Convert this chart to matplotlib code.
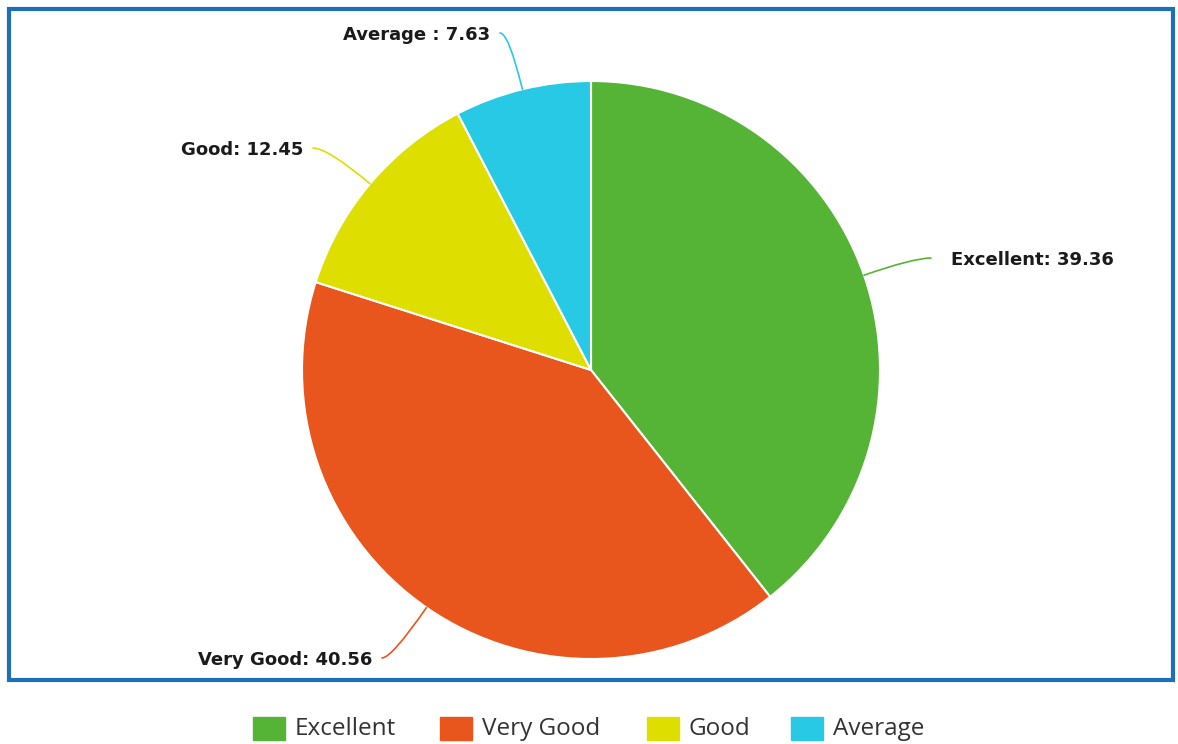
import numpy as np
import matplotlib
matplotlib.use("Agg")
import matplotlib.pyplot as plt
from matplotlib.patches import Rectangle

categories = ["Excellent", "Very Good", "Good", "Average"]
values = [39.36, 40.56, 12.45, 7.63]
colors = ["#55b436", "#e8561e", "#dede00", "#27c9e5"]

W, H = 1178, 744
fig = plt.figure(figsize=(W / 100, H / 100), dpi=100)
ax = fig.add_axes([0, 0, 1, 1])

def P(x, y):
    return (x, H - y)

cx, cy = P(591, 370)
R = 289
wedges, _ = ax.pie(values, colors=colors, startangle=90, counterclock=False,
                   center=(cx, cy), radius=R, frame=True,
                   wedgeprops=dict(edgecolor="white", linewidth=1.5))
ax.set_xlim(0, W)
ax.set_ylim(0, H)
ax.axis("off")

# border
ax.add_patch(Rectangle(P(9, 680), 1164, 671, fill=False, edgecolor="#1c6fb9",
                       linewidth=3, zorder=5))

# labels
label_pos = {
    "Excellent": ((951, 260), "left"),
    "Very Good": ((372, 660), "right"),
    "Good": ((303, 150), "right"),
    "Average": ((490, 35), "right"),
}
for w, cat, val, col in zip(wedges, categories, values, colors):
    mid = (w.theta1 + w.theta2) / 2
    ang = np.deg2rad(mid)
    ex, ey = cx + R * np.cos(ang), cy + R * np.sin(ang)
    (tx, ty), ha = label_pos[cat]
    sep = " : " if cat == "Average" else ": "
    txt = f"{cat}{sep}{val:.2f}"
    tX, tY = P(tx, ty)
    lx = tX + 10 if ha == "right" else tX - 20
    ly = tY + 2
    ax.annotate("", xy=(ex, ey), xytext=(lx, ly),
                arrowprops=dict(arrowstyle="-", color=col, lw=1.2,
                                shrinkA=0, shrinkB=0,
                                connectionstyle=f"angle3,angleA=0,angleB={mid % 180}"))
    ax.text(tX, tY, txt, ha=ha, va="center", fontsize=13, fontweight="bold",
            family="DejaVu Sans", color="#1a1a1a")

# legend
leg_x = [253, 440, 647, 791]
for x, cat, col in zip(leg_x, categories, colors):
    ax.add_patch(Rectangle(P(x, 740), 32, 23, color=col, zorder=5))
    ax.text(*P(x + 42, 729), cat, ha="left", va="center", fontsize=17.5,
            family="Open Sans", color="#333333")

fig.savefig("out.png", dpi=100, facecolor="white")
